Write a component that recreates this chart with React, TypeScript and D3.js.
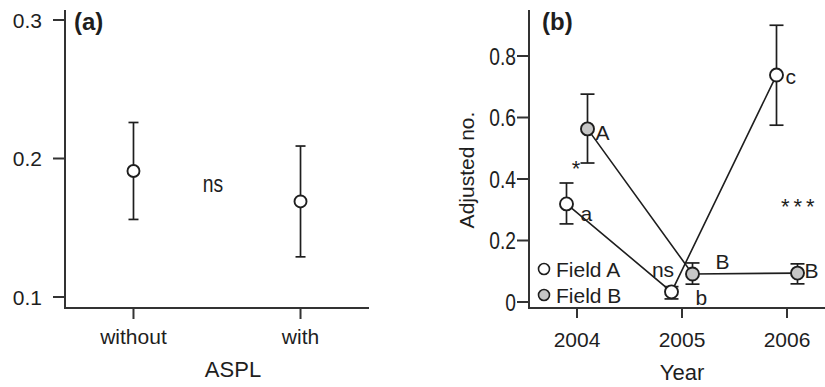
import React from "react";
import * as d3 from "d3";

// Panel (a)
const aspl = ["without", "with"];
const aMean = [0.191, 0.169];
const aLow = [0.156, 0.129];
const aHigh = [0.226, 0.209];
const aTicks = [0.1, 0.2, 0.3];

// Panel (b)
const years = [2004, 2005, 2006];
const fieldAMean = [0.319, 0.033, 0.738];
const fieldALow = [0.254, 0.01, 0.575];
const fieldAHigh = [0.387, 0.05, 0.9];
const fieldBMean = [0.563, 0.091, 0.094];
const fieldBLow = [0.452, 0.058, 0.059];
const fieldBHigh = [0.676, 0.127, 0.124];
const fieldALetters = ["a", "b", "c"];
const fieldBLetters = ["A", "B", "B"];
const yearSig = ["*", "ns", "***"];
const bTicks = [0, 0.2, 0.4, 0.6, 0.8];
const seriesNames = ["Field A", "Field B"];

const INK = "#1e1e1e";
const AXIS = "#333";
const GRAY = "#c6c6c6";
const FONT = "'Liberation Sans', Arial, Helvetica, sans-serif";

export default function App() {
  // panel a scales
  const xa = d3.scalePoint<string>().domain(aspl).range([65, 369]).padding(0.41);
  const ya = d3.scaleLinear().domain([0.1, 0.3]).range([297, 20]);
  // panel b scales
  const xb = d3.scaleLinear().domain([2004, 2006]).range([577, 787]);
  const yb = d3.scaleLinear().domain([0, 0.8]).range([302, 56]);
  const off = 0.1;

  const lineB = d3
    .line<[number, number]>()
    .x((d) => xb(d[0]))
    .y((d) => yb(d[1]));

  const aLinePts = years.map((y, i) => [y - off, fieldAMean[i]] as [number, number]);
  const bLinePts = years.map((y, i) => [y + off, fieldBMean[i]] as [number, number]);

  const errBar = (x: number, y1: number, y2: number, cap: number, key: string) => (
    <g key={key} stroke={INK} strokeWidth={1.7}>
      <line x1={x} x2={x} y1={y1} y2={y2} />
      <line x1={x - cap} x2={x + cap} y1={y1} y2={y1} />
      <line x1={x - cap} x2={x + cap} y1={y2} y2={y2} />
    </g>
  );

  return (
    <svg
      width={825}
      height={387}
      style={{ position: "absolute", left: 0, top: 0, background: "#fff" }}
      fontFamily={FONT}
    >
      <rect width={825} height={387} fill="#fff" />
      {/* ---------- Panel (a) ---------- */}
      <g>
        <line x1={65} x2={65} y1={10} y2={309} stroke={AXIS} strokeWidth={2} />
        <line x1={64} x2={369} y1={308} y2={308} stroke={AXIS} strokeWidth={2} />
        {aTicks.map((t) => (
          <g key={t}>
            <line x1={53} x2={65} y1={ya(t)} y2={ya(t)} stroke={AXIS} strokeWidth={2} />
            <text x={42} y={ya(t) + 7.5} fontSize={21} textAnchor="end" fill={INK}>
              {t.toFixed(1)}
            </text>
          </g>
        ))}
        {aspl.map((c) => (
          <g key={c}>
            <line x1={xa(c)!} x2={xa(c)!} y1={308} y2={319} stroke={AXIS} strokeWidth={2} />
            <text x={xa(c)!} y={344} fontSize={21} textAnchor="middle" fill={INK}>
              {c}
            </text>
          </g>
        ))}
        <text x={233} y={377} fontSize={22} textAnchor="middle" fill={INK}>
          ASPL
        </text>
        <text x={74} y={30} fontSize={24} fontWeight="bold" fill={INK}>
          (a)
        </text>
        {aspl.map((c, i) => errBar(xa(c)!, ya(aHigh[i]), ya(aLow[i]), 5, "ea" + i))}
        {aspl.map((c, i) => (
          <circle key={c} cx={xa(c)!} cy={ya(aMean[i])} r={6} fill="#fff" stroke={INK} strokeWidth={1.9} />
        ))}
        <text
          fontSize={23}
          textAnchor="middle"
          fill={INK}
          transform="translate(213,192) scale(0.84,1)"
        >
          ns
        </text>
      </g>

      {/* ---------- Panel (b) ---------- */}
      <g>
        <line x1={529} x2={529} y1={10} y2={309} stroke={AXIS} strokeWidth={2} />
        <line x1={528} x2={825} y1={308} y2={308} stroke={AXIS} strokeWidth={2} />
        {bTicks.map((t) => (
          <g key={t}>
            <line x1={517} x2={529} y1={yb(t)} y2={yb(t)} stroke={AXIS} strokeWidth={2} />
            <text
              x={0}
              y={0}
              fontSize={24}
              textAnchor="end"
              fill={INK}
              transform={`translate(516,${yb(t) + 8.5}) scale(0.8,1)`}
            >
              {t === 0 ? "0" : t.toFixed(1)}
            </text>
          </g>
        ))}
        {years.map((y) => (
          <g key={y}>
            <line x1={xb(y)} x2={xb(y)} y1={308} y2={318} stroke={AXIS} strokeWidth={2} />
            <text x={xb(y)} y={347} fontSize={21} textAnchor="middle" fill={INK}>
              {y}
            </text>
          </g>
        ))}
        <text x={682} y={380} fontSize={22} textAnchor="middle" fill={INK}>
          Year
        </text>
        <text
          fontSize={21}
          textAnchor="middle"
          fill={INK}
          transform={`translate(474,170) rotate(-90)`}
        >
          Adjusted no.
        </text>
        <text x={542} y={30} fontSize={24} fontWeight="bold" fill={INK}>
          (b)
        </text>

        {/* lines */}
        <path d={lineB(aLinePts)!} fill="none" stroke={INK} strokeWidth={1.6} />
        <path d={lineB(bLinePts)!} fill="none" stroke={INK} strokeWidth={1.6} />

        {/* error bars */}
        {years.map((y, i) => errBar(xb(y - off), yb(fieldAHigh[i]), yb(fieldALow[i]), 7, "eA" + i))}
        {years.map((y, i) => errBar(xb(y + off), yb(fieldBHigh[i]), yb(fieldBLow[i]), 7, "eB" + i))}

        {/* points */}
        {years.map((y, i) => (
          <circle key={"pA" + y} cx={xb(y - off)} cy={yb(fieldAMean[i])} r={6.5} fill="#fff" stroke={INK} strokeWidth={1.9} />
        ))}
        {years.map((y, i) => (
          <circle key={"pB" + y} cx={xb(y + off)} cy={yb(fieldBMean[i])} r={6.5} fill={GRAY} stroke={INK} strokeWidth={1.9} />
        ))}

        {/* letters */}
        <text x={xb(2004 - off) + 14} y={yb(fieldAMean[0]) + 17} fontSize={21} fill={INK}>{fieldALetters[0]}</text>
        <text x={xb(2005 - off) + 24} y={yb(fieldAMean[1]) + 13} fontSize={21} fill={INK}>{fieldALetters[1]}</text>
        <text x={xb(2006 - off) + 9} y={yb(fieldAMean[2]) + 9} fontSize={21} fill={INK}>{fieldALetters[2]}</text>
        <text x={xb(2004 + off) + 8} y={yb(fieldBMean[0]) + 11} fontSize={21} fill={INK}>{fieldBLetters[0]}</text>
        <text x={xb(2005 + off) + 23} y={yb(fieldBMean[1]) - 5} fontSize={21} fill={INK}>{fieldBLetters[1]}</text>
        <text x={xb(2006 + off) + 7} y={yb(fieldBMean[2]) + 5} fontSize={21} fill={INK}>{fieldBLetters[2]}</text>

        {/* significance */}
        <text x={576} y={176} fontSize={22} textAnchor="middle" fill={INK}>{yearSig[0]}</text>
        <text x={663} y={277} fontSize={21} textAnchor="middle" fill={INK}>{yearSig[1]}</text>
        <text x={781} y={214} fontSize={22} letterSpacing={4} fill={INK}>{yearSig[2]}</text>

        {/* legend */}
        <circle cx={544} cy={269} r={5.5} fill="#fff" stroke={INK} strokeWidth={1.6} />
        <text x={556} y={276.5} fontSize={21} fill={INK}>{seriesNames[0]}</text>
        <circle cx={544} cy={295} r={5.5} fill={GRAY} stroke={INK} strokeWidth={1.6} />
        <text x={556} y={302.5} fontSize={21} fill={INK}>{seriesNames[1]}</text>
      </g>
    </svg>
  );
}
